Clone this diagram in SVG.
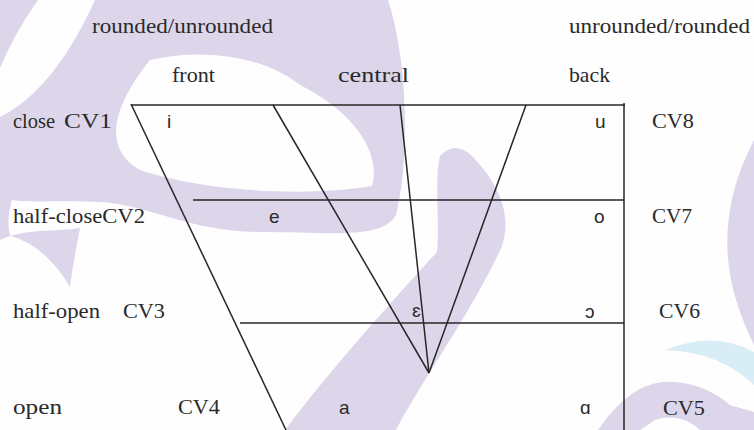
<svg xmlns="http://www.w3.org/2000/svg" width="754" height="430" viewBox="0 0 754 430">
<style>
.wm{fill:#ddd6eb;stroke:none}
.wb{fill:#d8edf5;stroke:none}
.ln{stroke:#262626;stroke-width:1.5;fill:none}
.lb{font-family:"Liberation Serif",serif;font-size:21px;fill:#2a2a2a}
.sy{font-family:"Liberation Sans",sans-serif;font-size:19px;fill:#2a2a2a}
</style>
<rect x="0" y="0" width="754" height="430" fill="#fefefe"/>
<g id="watermark">
<path class="wm" d="M0,0 L38,0 Q14,34 0,68 Z"/>
<path class="wm" fill-rule="evenodd" d="M95,0 L388,0 C408,60 410,160 396,215 C382,240 330,232 260,232 C190,232 150,205 100,202 C60,200 30,203 12,200 Q6,220 10,236 C35,242 55,262 70,287 C72,270 76,250 80,228 C55,232 25,228 0,240 L0,117 C35,100 68,60 95,0 Z M150,60 C200,48 262,55 300,85 C350,110 382,150 372,186 C300,198 200,190 140,170 C104,150 110,110 150,60 Z"/>
<path class="wm" d="M285,430 C330,370 400,292 437,252 C440,220 434,180 440,156 Q455,140 472,156 C500,185 512,215 502,246 C472,312 422,380 396,430 Z"/>
<path class="wm" d="M598,430 Q628,386 662,382 Q700,380 730,405 L754,412 L754,430 L700,430 Q680,412 655,420 L640,430 Z"/>
<path class="wm" d="M754,140 Q712,220 736,300 Q744,325 754,345 Z"/>
<path class="wb" d="M665,350 Q715,330 754,352 L754,385 Q720,352 665,350 Z"/>
</g>
<g id="connectors">
<line class="ln" x1="131" y1="105" x2="625" y2="105"/>
<line class="ln" x1="624" y1="103" x2="624" y2="430"/>
<line class="ln" x1="131" y1="104" x2="286" y2="430"/>
<line class="ln" x1="273" y1="105" x2="429" y2="373"/>
<line class="ln" x1="400" y1="105" x2="429" y2="373"/>
<line class="ln" x1="526" y1="105" x2="429" y2="373"/>
<line class="ln" x1="193" y1="200" x2="624" y2="200"/>
<line class="ln" x1="240" y1="323" x2="624" y2="323"/>
</g>
<g id="headers">
<text class="lb" x="92" y="33" textLength="181" lengthAdjust="spacingAndGlyphs">rounded/unrounded</text>
<text class="lb" x="569" y="33" textLength="181" lengthAdjust="spacingAndGlyphs">unrounded/rounded</text>
<text class="lb" x="172" y="82" textLength="43" lengthAdjust="spacingAndGlyphs">front</text>
<text class="lb" x="338" y="82" textLength="71" lengthAdjust="spacingAndGlyphs">central</text>
<text class="lb" x="569" y="82" textLength="41" lengthAdjust="spacingAndGlyphs">back</text>
</g>
<g id="row-close">
<text class="lb" x="13" y="128" textLength="42" lengthAdjust="spacingAndGlyphs">close</text>
<text class="lb" x="64" y="128" textLength="48" lengthAdjust="spacingAndGlyphs">CV1</text>
<text class="sy" x="167" y="128">i</text>
<text class="sy" x="595" y="128">u</text>
<text class="lb" x="652" y="128" textLength="42" lengthAdjust="spacingAndGlyphs">CV8</text>
</g>
<g id="row-half-close">
<text class="lb" x="13" y="223" textLength="132" lengthAdjust="spacingAndGlyphs">half-closeCV2</text>
<text class="sy" x="269" y="223">e</text>
<text class="sy" x="594" y="223">o</text>
<text class="lb" x="652" y="223" textLength="40" lengthAdjust="spacingAndGlyphs">CV7</text>
</g>
<g id="row-half-open">
<text class="lb" x="13" y="318" textLength="87" lengthAdjust="spacingAndGlyphs">half-open</text>
<text class="lb" x="123" y="318" textLength="42" lengthAdjust="spacingAndGlyphs">CV3</text>
<text class="sy" x="412" y="317">ɛ</text>
<text class="sy" x="585" y="318">ɔ</text>
<text class="lb" x="659" y="318" textLength="41" lengthAdjust="spacingAndGlyphs">CV6</text>
</g>
<g id="row-open">
<text class="lb" x="13" y="414" textLength="49" lengthAdjust="spacingAndGlyphs">open</text>
<text class="lb" x="178" y="414" textLength="42" lengthAdjust="spacingAndGlyphs">CV4</text>
<text class="sy" x="339" y="414">a</text>
<text class="sy" x="580" y="414">ɑ</text>
<text class="lb" x="663" y="415" textLength="42" lengthAdjust="spacingAndGlyphs">CV5</text>
</g>
</svg>
